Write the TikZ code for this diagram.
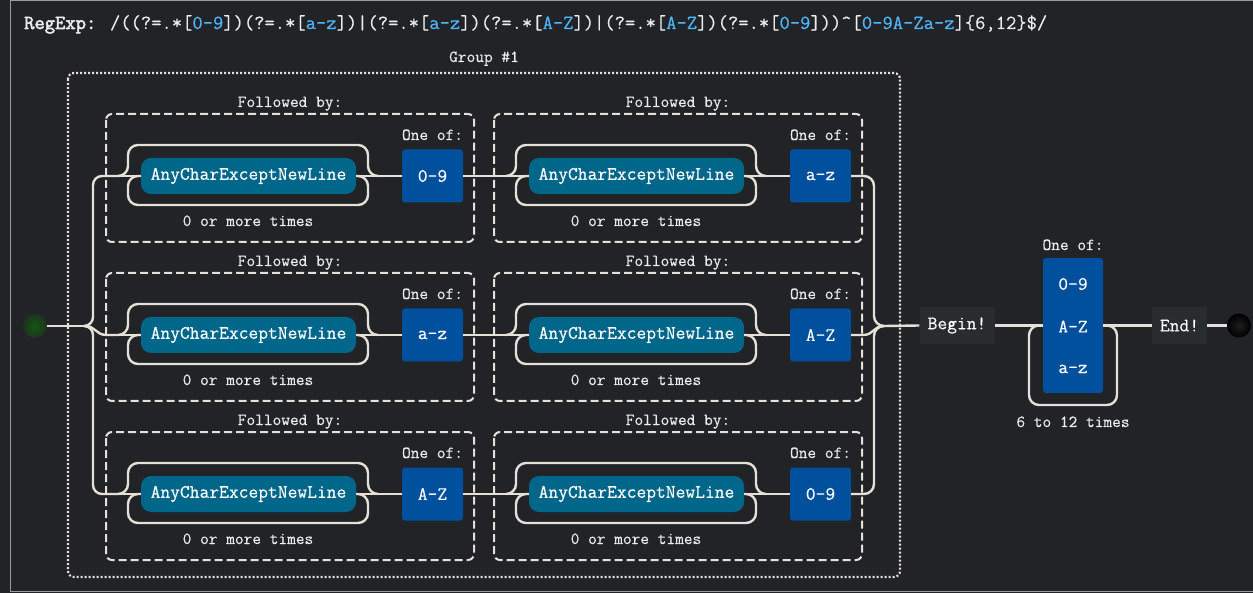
\documentclass[tikz,border=0pt]{standalone}
\usepackage{fontspec}
\setmainfont{Latin Modern Mono}[FakeBold=0.35, BoldFont={Latin Modern Mono}, BoldFeatures={FakeBold=2.6}]
\setmonofont{Latin Modern Mono}[FakeBold=0.35, BoldFont={Latin Modern Mono}, BoldFeatures={FakeBold=2.6}]
\usetikzlibrary{calc}
\definecolor{bg}{HTML}{222327}
\definecolor{framec}{HTML}{9A9A9A}
\definecolor{linec}{HTML}{E6E1D8}
\definecolor{txt}{HTML}{ECECEC}
\definecolor{tealc}{HTML}{00668A}
\definecolor{bluec}{HTML}{00509E}
\definecolor{litb}{HTML}{4DB8FF}
\definecolor{anchc}{HTML}{282C2D}
\newcommand\lblfont{\fontsize{16.9}{18}\selectfont}
\newcommand\nodefont{\fontsize{19}{21}\selectfont}
\newcommand\cb[1]{[\textcolor{litb}{#1}]}
\newcommand\followbox[4]{%
\begin{scope}[shift={(#2,#3)}]
 \draw[dbox] (0,-62) rectangle (368,66);
 \node[lbl] (f#1) at (184,-69) {Followed by:};
 \node[anyc] (a#1) at (142.5,0) {AnyCharExceptNewLine};
 \node[lbl] (t#1) at (142,50) {0 or more times};
 \node[cls] (c#1) at (326.5,0) {#4};
 \node[lbl] (o#1) at (326.5,-36) {One of:};
 \coordinate (s#1) at (12,0);
 \coordinate (e#1) at (272,0);
 \draw[conn] (s#1) -- (a#1.west);
 \draw[conn] (a#1.east) -- (c#1.west);
 \draw[conn, rounded corners=10pt] (s#1) -- (22,0) -- (22,-31) -- (262,-31) -- (262,0) -- (e#1);
 \draw[conn, rounded corners=10pt] (a#1.east) -- (262,0) -- (262,29) -- (22,29) -- (22,0) -- (a#1.west);
\end{scope}}
\begin{document}
\begin{tikzpicture}[x=1pt,y=-1pt,
  conn/.style={draw=linec, line width=2.4pt},
  dbox/.style={draw=linec, line width=2pt, dash pattern=on 8pt off 4pt, rounded corners=6pt},
  gbox/.style={draw=linec, line width=2.2pt, dash pattern=on 2pt off 2pt, rounded corners=6pt},
  lbl/.style={anchor=base, inner sep=0pt, text=txt, font=\lblfont},
  anyc/.style={fill=tealc, rounded corners=10pt, minimum width=215pt, minimum height=36pt, inner sep=0pt, text=white, font=\nodefont},
  cls/.style={fill=bluec, rounded corners=3pt, minimum width=61pt, minimum height=53pt, inner sep=0pt, text=white, font=\nodefont},
  anch/.style={fill=anchc, minimum height=37pt, inner sep=0pt, text=white, font=\nodefont},
  ctext/.style={inner sep=0pt, text=white, font=\nodefont}]
\fill[bg] (0,0) rectangle (1253,593);
\useasboundingbox (0,0) rectangle (1253,593);
\draw[framec, line width=1.3pt] (1253,0.8) -- (10.8,0.8) -- (10.8,591.5) -- (1253,591.5);
% title
\node[anchor=base west, inner sep=0pt, text=txt, font=\fontsize{20}{22}\selectfont] (title) at (24,29)
 {\textbf{RegExp:} /((?=.*\cb{0-9})(?=.*\cb{a-z})|(?=.*\cb{a-z})(?=.*\cb{A-Z})|(?=.*\cb{A-Z})(?=.*\cb{0-9}))\textasciicircum\cb{0-9A-Za-z}\{6,12\}\$/};
% group
\draw[gbox] (68,73) rectangle (900,577);
\node[lbl] (grp) at (484,62) {Group \#1};
% rows
\followbox{11}{106}{176}{0-9}
\followbox{12}{494}{176}{a-z}
\followbox{21}{106}{335}{a-z}
\followbox{22}{494}{335}{A-Z}
\followbox{31}{106}{494}{A-Z}
\followbox{32}{494}{494}{0-9}
\draw[conn] (c11.east) -- (s12);
\draw[conn] (c21.east) -- (s22);
\draw[conn] (c31.east) -- (s32);
% start
\node[circle, minimum size=24pt, inner sep=0pt, inner color={rgb,255:red,18;green,86;blue,18}, outer color={rgb,255:red,30;green,52;blue,32}] (st) at (35,326) {};
\coordinate (j1) at (85,326);
\draw[conn] (st.east) -- (j1);
\draw[conn, rounded corners=9pt] (j1) -- (93,326) -- (93,176) -- (s11);
\draw[conn, rounded corners=9pt] (j1) -- (93,326) -- (93,494) -- (s31);
\draw[conn] (j1) .. controls (96,326) and (95,335) .. (107,335) -- (s21);
% merge
\coordinate (j2) at (884,326);
\draw[conn, rounded corners=10pt] (c12.east) -- (874,176) -- (874,326) -- (j2);
\draw[conn, rounded corners=10pt] (c32.east) -- (874,494) -- (874,326) -- (j2);
\draw[conn] (c22.east) -- (863,335) .. controls (874,335) and (873,326) .. (j2);
% begin
\node[anch, minimum width=75pt] (begin) at (957,325.5) {Begin!};
\draw[conn] (j2) -- (begin.west);
% repeat
\node[lbl] (ro) at (1073,250) {One of:};
\node[fill=bluec, rounded corners=3pt, minimum width=60pt, minimum height=135pt, inner sep=0pt] (rep) at (1073,325.5) {};
\node[ctext] (r1) at (1073,284) {0-9};
\node[ctext] (r2) at (1073,326.5) {A-Z};
\node[ctext] (r3) at (1073,369) {a-z};
\node[lbl] (rt) at (1073,427) {6 to 12 times};
\draw[conn] (begin.east) -- (rep.west |- begin.east);
\draw[conn, rounded corners=10pt] (rep.east |- begin.east) -- (1117,325.5) -- (1117,405) -- (1029,405) -- (1029,325.5) -- (rep.west |- begin.east);
% end
\node[anch, minimum width=55pt] (endn) at (1179.5,325.5) {End!};
\draw[conn] (rep.east |- begin.east) -- (endn.west);
\node[circle, minimum size=24pt, inner sep=0pt, inner color={rgb,255:red,30;green,30;blue,30}, outer color=black] (fin) at (1239,325.5) {};
\draw[conn] (endn.east) -- (fin.west);
\end{tikzpicture}
\end{document}
